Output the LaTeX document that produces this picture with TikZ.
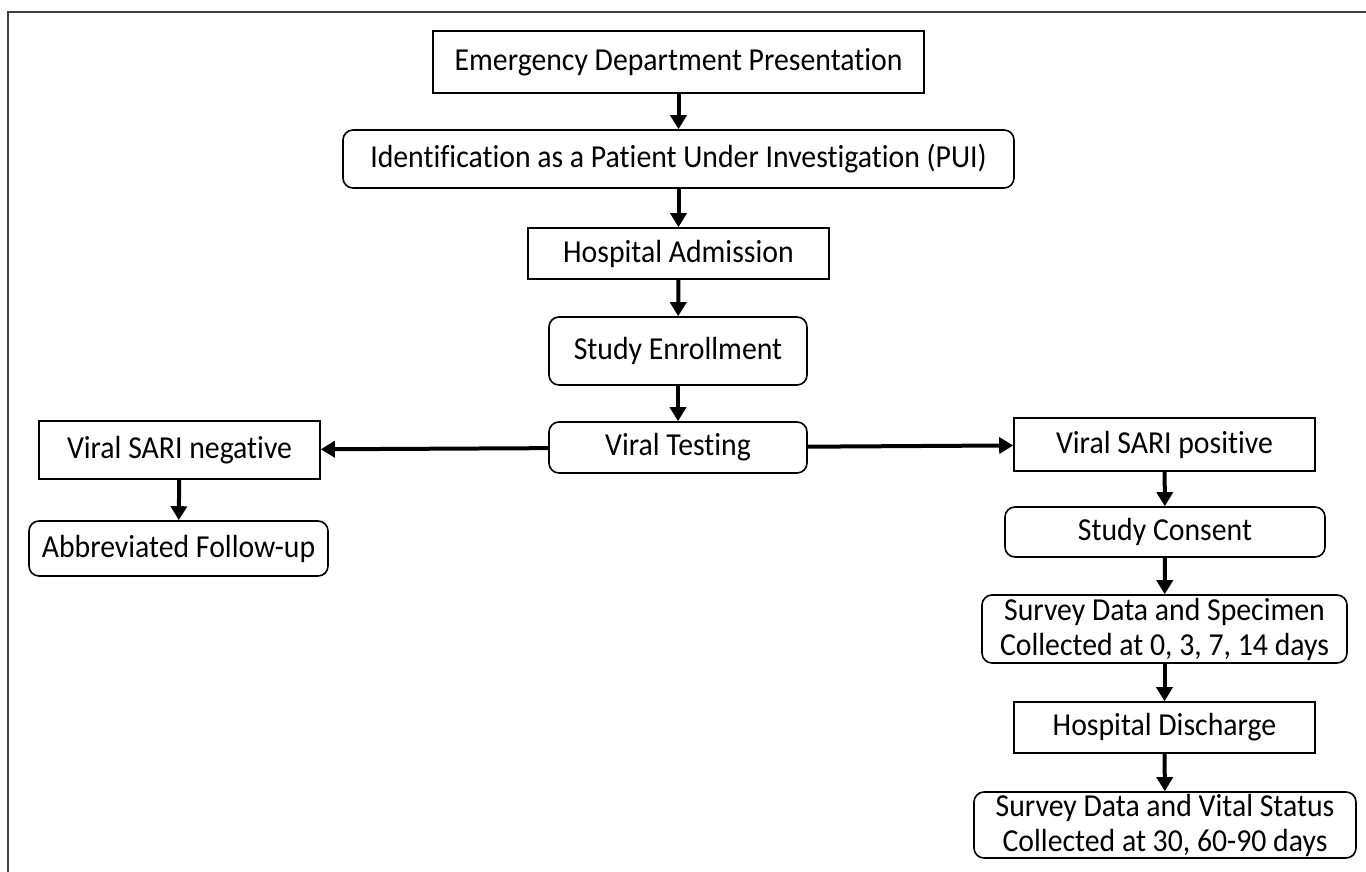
\documentclass[tikz,border=0pt]{standalone}
\usepackage{fontspec}
\setmainfont{Carlito}[FakeStretch=0.93,RawFeature={-liga;-clig;-calt;-dlig}]
\usetikzlibrary{arrows.meta}

\begin{document}
\begin{tikzpicture}[x=0.5pt,y=-0.5pt,
  stepbox/.style={draw,line width=0.8pt,align=center,inner sep=0pt,
    font=\fontsize{16}{17.5}\selectfont},
  roundbox/.style={stepbox,rounded corners=5pt},
  flow/.style={line width=2pt,-{Triangle[length=7pt,width=8pt]}}]
\useasboundingbox (0,0) rectangle (1366,872);
% frame, cut off at the right and bottom
\draw[line width=0.8pt,black!75] (8,872) -- (8,12) -- (1366,12);
% main column
\node [stepbox,minimum width=245.5pt,minimum height=31pt] (edp) at (678.5,62) {Emergency Department Presentation};
\node [roundbox,minimum width=335.5pt,minimum height=29pt] (pui) at (678.5,159) {Identification as a Patient Under Investigation (PUI)};
\node [stepbox,minimum width=150.5pt,minimum height=25.5pt] (adm) at (678.5,253.5) {Hospital Admission};
\node [roundbox,minimum width=129pt,minimum height=34pt] (enrol) at (678,351) {Study Enrollment};
\node [roundbox,minimum width=129pt,minimum height=25.5pt] (test) at (678,447.5) {Viral Testing};
% negative branch
\node [stepbox,minimum width=140.5pt,minimum height=29pt] (neg) at (179.5,450) {Viral SARI negative};
\node [roundbox,minimum width=149.5pt,minimum height=27.5pt] (short) at (178.5,548.5) {Abbreviated Follow-up};
% positive branch
\node [stepbox,minimum width=150.5pt,minimum height=26.5pt] (pos) at (1164.5,444.5) {Viral SARI positive};
\node [roundbox,minimum width=160pt,minimum height=25pt] (consent) at (1165,532) {Study Consent};
\node [roundbox,minimum width=182.5pt,minimum height=34pt] (sample) at (1164.5,629) {Survey Data and Specimen\\Collected at 0, 3, 7, 14 days};
\node [stepbox,minimum width=150.5pt,minimum height=25.5pt] (dis) at (1164.5,727.5) {Hospital Discharge};
\node [roundbox,minimum width=191pt,minimum height=33pt] (vital) at (1165,825) {Survey Data and Vital Status\\Collected at 30, 60-90 days};

\draw [flow] (edp) -- (pui);
\draw [flow] (pui) -- (adm);
\draw [flow] (adm) -- (enrol);
\draw [flow] (enrol) -- (test);
\draw [flow] (test) -- (neg);
\draw [flow] (test) -- (pos);
\draw [flow] (neg) -- (short);
\draw [flow] (pos) -- (consent);
\draw [flow] (consent) -- (sample);
\draw [flow] (sample) -- (dis);
\draw [flow] (dis) -- (vital);
\end{tikzpicture}
\end{document}
